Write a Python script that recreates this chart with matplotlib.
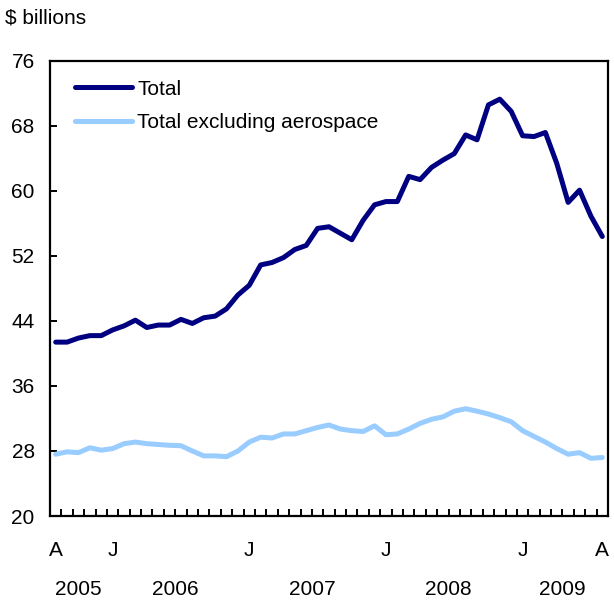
import numpy as np
import matplotlib.pyplot as plt
import matplotlib.transforms as mtransforms

plt.rcParams["font.family"] = ["Liberation Sans", "DejaVu Sans"]

# Monthly values, August 2005 to August 2009 ($ billions)
total = [
    41.4, 41.4, 41.9, 42.2, 42.2,                                        # 2005
    42.9, 43.4, 44.1, 43.2, 43.5, 43.5, 44.2, 43.7, 44.4, 44.6, 45.5, 47.2,  # 2006
    48.4, 50.9, 51.2, 51.8, 52.8, 53.3, 55.4, 55.6, 54.8, 54.0, 56.4, 58.3,  # 2007
    58.7, 58.7, 61.8, 61.4, 62.9, 63.8, 64.6, 66.9, 66.3, 70.6, 71.3, 69.8,  # 2008
    66.8, 66.7, 67.2, 63.4, 58.6, 60.1, 56.9, 54.4,                      # 2009
]
excl_aero = [
    27.6, 27.9, 27.8, 28.4, 28.1,
    28.3, 28.9, 29.1, 28.9, 28.8, 28.7, 28.65, 28.0, 27.4, 27.4, 27.3, 28.0,
    29.1, 29.7, 29.6, 30.1, 30.1, 30.5, 30.9, 31.2, 30.7, 30.5, 30.4, 31.1,
    30.0, 30.1, 30.7, 31.4, 31.9, 32.2, 32.9, 33.2, 32.9, 32.55, 32.1, 31.6,
    30.5, 29.8, 29.1, 28.3, 27.6, 27.8, 27.1, 27.2,
]
month_labels = {0: "A", 5: "J", 17: "J", 29: "J", 41: "J", 48: "A"}
years = ["2005", "2006", "2007", "2008", "2009"]
year_centers = [2.0, 10.5, 22.5, 34.5, 44.5]
y_ticks = [20, 28, 36, 44, 52, 60, 68, 76]

x = np.arange(len(total))
fs = 15

fig = plt.figure(figsize=(6.14, 6.01), dpi=100)
ax = fig.add_axes([50 / 614, 85 / 601, 558 / 614, 455 / 601])

ax.plot(x, total, color="#000080", lw=3.6, solid_joinstyle="round",
        solid_capstyle="round", label="Total")
ax.plot(x, excl_aero, color="#99CCFF", lw=3.6, solid_joinstyle="round",
        solid_capstyle="round", label="Total excluding aerospace")

ax.set_xlim(-0.5, len(total) - 0.5)
ax.set_ylim(20, 76)
ax.set_yticks(y_ticks)
ax.set_xticks(np.arange(0.5, len(total) - 1, 1.0))
ax.set_xticklabels([])

for s in ax.spines.values():
    s.set_linewidth(1.6)
ax.tick_params(axis="both", direction="in", length=5, width=1.4)
ax.tick_params(axis="y", pad=11, labelsize=fs)

trans = mtransforms.blended_transform_factory(ax.transData, ax.transAxes)
for i, lab in month_labels.items():
    ax.text(i, -0.076, lab, transform=trans, ha="center", va="center", fontsize=fs)
for c, yr in zip(year_centers, years):
    ax.text(c, -0.162, yr, transform=trans, ha="center", va="center", fontsize=fs)

fig.text(5 / 614, 1 - 18 / 601, "$ billions", ha="left", va="center", fontsize=fs)

ax.legend(loc="upper left", bbox_to_anchor=(0.045, 0.959), frameon=False,
          fontsize=fs, handlelength=2.75, handletextpad=0.24, labelspacing=0.7,
          borderaxespad=0, borderpad=0)

fig.savefig("out.png", dpi=100)
